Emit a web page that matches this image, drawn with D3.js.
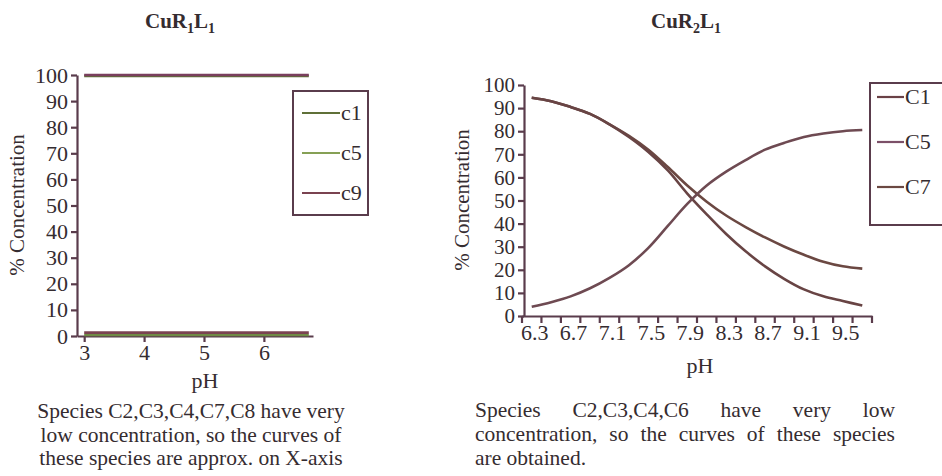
<!DOCTYPE html>
<html>
<head>
<meta charset="utf-8">
<script src="https://cdn.jsdelivr.net/npm/d3@7"></script>
<style>
  body { margin: 0; background: #fff; }
  svg { display: block; }
  text { font-family: "Liberation Serif", "Times New Roman", serif; fill: #352c30; }
</style>
</head>
<body>
<div id="chart"></div>
<script>
// ---- CuR1L1 (left panel) ----
const phLeft = [3, 4, 5, 6, 6.75];
const leftC1 = [99.6, 99.6, 99.6, 99.6, 99.6];
const leftC5 = [0.4, 0.4, 0.4, 0.4, 0.4];
const leftC9 = [100, 100, 100, 100, 100];
const leftMinor = [1.3, 1.3, 1.3, 1.3, 1.3];
const leftXTicks = [3, 4, 5, 6];
const yTicks = [0, 10, 20, 30, 40, 50, 60, 70, 80, 90, 100];

// ---- CuR2L1 (right panel) ----
const phRight = ["6.3", "6.5", "6.7", "6.9", "7.1", "7.3", "7.5", "7.7", "7.9",
                 "8.1", "8.3", "8.5", "8.7", "8.9", "9.1", "9.3", "9.5", "9.7"];
const rightC1 = [94.5, 93, 90.5, 87.5, 83, 77.5, 71, 63, 53, 44, 35.5, 28, 21.5, 16, 11.5, 8.5, 6.5, 4.5];
const rightC5 = [4, 6, 8.5, 12, 16.5, 22, 29.5, 39, 48.5, 56.5, 62.5, 67.5, 72, 75, 77.5, 79, 80, 80.5];
const rightC7 = [94.5, 93, 90.5, 87.5, 83, 78, 72, 64.5, 56.5, 49.5, 43.5, 38.5, 34, 30, 26.5, 23.5, 21.5, 20.5];
const rightLabels = ["6.3", "6.7", "7.1", "7.5", "7.9", "8.3", "8.7", "9.1", "9.5"];

const axisColor = "#5a3c4c";
const serif = "Liberation Serif";

const svg = d3.select("#chart").append("svg")
    .attr("width", 942)
    .attr("height", 476);

function title(x, y, sub1) {
    const t = svg.append("text")
        .attr("x", x).attr("y", y)
        .attr("text-anchor", "middle")
        .attr("font-size", "21px")
        .attr("font-weight", "bold");
    t.append("tspan").text("CuR");
    t.append("tspan").attr("font-size", "14px").attr("dy", 5).text(sub1);
    t.append("tspan").attr("dy", -5).text("L");
    t.append("tspan").attr("font-size", "14px").attr("dy", 5).text("1");
}

// d3 axis writes font-size/family on the group, so override afterwards
function styleAxis(g, size) {
    g.attr("font-family", serif).attr("font-size", size);
    g.selectAll("path, line").attr("stroke", axisColor).attr("stroke-width", 2.2);
    g.selectAll("text").attr("fill", "#352c30");
}

// ================= left panel =================
title(180, 28, "1");

const xL = d3.scaleLinear().domain([2.88, 6.82]).range([77, 313]);
const yL = d3.scaleLinear().domain([0, 100]).range([336, 75]);

svg.append("g")
    .attr("transform", "translate(77,0)")
    .call(d3.axisLeft(yL).tickValues(yTicks).tickSize(6).tickSizeOuter(0).tickPadding(3))
    .call(styleAxis, 22);

svg.append("g")
    .attr("transform", "translate(0,336)")
    .call(d3.axisBottom(xL).tickValues(leftXTicks).tickFormat(d3.format("d"))
        .tickSize(6).tickSizeOuter(0).tickPadding(2))
    .call(styleAxis, 22);

const lineL = d3.line().x((d, i) => xL(phLeft[i])).y(d => yL(d));
[[leftC1, "#5f7038"], [leftC9, "#7a3f5e"], [leftC5, "#6f8a45"], [leftMinor, "#7a4350"]].forEach(([vals, col]) => {
    svg.append("path").datum(vals)
        .attr("d", lineL)
        .attr("fill", "none")
        .attr("stroke", col)
        .attr("stroke-width", 2.6);
});

svg.append("text")
    .attr("transform", "translate(24,205) rotate(-90)")
    .attr("text-anchor", "middle")
    .attr("font-size", "21px")
    .text("% Concentration");

svg.append("text")
    .attr("x", 205).attr("y", 388)
    .attr("text-anchor", "middle")
    .attr("font-size", "22px")
    .text("pH");

// legend left
const legL = [["c1", "#5f7038", 113], ["c5", "#86a055", 153], ["c9", "#7a4350", 193]];
svg.append("rect")
    .attr("x", 293).attr("y", 91).attr("width", 75).attr("height", 124)
    .attr("fill", "#fff").attr("stroke", axisColor).attr("stroke-width", 2);
legL.forEach(([name, col, y]) => {
    svg.append("line").attr("x1", 302).attr("x2", 340).attr("y1", y).attr("y2", y)
        .attr("stroke", col).attr("stroke-width", 2.2);
    svg.append("text").attr("x", 341).attr("y", y + 7).attr("font-size", "22px").text(name);
});

const capL = ["Species C2,C3,C4,C7,C8 have very",
              "low concentration, so the curves of",
              "these species are approx. on X-axis"];
capL.forEach((s, i) => {
    svg.append("text")
        .attr("x", 191).attr("y", 418 + i * 23.5)
        .attr("text-anchor", "middle")
        .attr("font-size", "21.5px")
        .text(s);
});

// ================= right panel =================
title(686, 28, "2");

const xR = d3.scaleBand().domain(phRight).range([522, 872]).padding(0);
const yR = d3.scaleLinear().domain([0, 100]).range([316, 85]);

svg.append("g")
    .attr("transform", "translate(524,0)")
    .call(d3.axisLeft(yR).tickValues(yTicks).tickSize(6).tickSizeOuter(0).tickPadding(3))
    .call(styleAxis, 21);

const xAxisR = svg.append("g")
    .attr("transform", "translate(0,316)")
    .call(d3.axisBottom(xR).tickValues(rightLabels).tickSize(0).tickSizeOuter(0).tickPadding(8))
    .call(styleAxis, 22);
xAxisR.selectAll(".tick line").remove();
xAxisR.selectAll(".tick text").attr("dx", 3);

// tick marks sit between categories
const edges = phRight.map(c => xR(c)).concat([xR.range()[1]]);
svg.append("g").selectAll("line")
    .data(edges)
    .join("line")
    .attr("x1", d => d).attr("x2", d => d)
    .attr("y1", 316).attr("y2", 323)
    .attr("stroke", axisColor).attr("stroke-width", 2.2);

const lineR = d3.line()
    .x((d, i) => xR(phRight[i]) + xR.bandwidth() / 2)
    .y(d => yR(d))
    .curve(d3.curveCatmullRom.alpha(0.5));

const seriesR = [["C7", rightC7, "#6b4842"], ["C1", rightC1, "#684444"], ["C5", rightC5, "#6e4a52"]];
seriesR.forEach(([name, vals, col]) => {
    svg.append("path").datum(vals)
        .attr("d", lineR)
        .attr("fill", "none")
        .attr("stroke", col)
        .attr("stroke-width", 2.6);
});

svg.append("text")
    .attr("transform", "translate(469,200) rotate(-90)")
    .attr("text-anchor", "middle")
    .attr("font-size", "21px")
    .text("% Concentration");

svg.append("text")
    .attr("x", 700).attr("y", 373)
    .attr("text-anchor", "middle")
    .attr("font-size", "22px")
    .text("pH");

// legend right (runs off the page edge)
const legR = [["C1", "#6a4146", 97], ["C5", "#7c5068", 142], ["C7", "#6b4842", 187]];
svg.append("rect")
    .attr("x", 870).attr("y", 83).attr("width", 90).attr("height", 142)
    .attr("fill", "#fff").attr("stroke", axisColor).attr("stroke-width", 2);
legR.forEach(([name, col, y]) => {
    svg.append("line").attr("x1", 877).attr("x2", 904).attr("y1", y).attr("y2", y)
        .attr("stroke", col).attr("stroke-width", 2.2);
    svg.append("text").attr("x", 905).attr("y", y + 7).attr("font-size", "22px").text(name);
});

// justified caption
const capR = [["Species C2,C3,C4,C6 have very low", true],
              ["concentration, so the curves of these species", true],
              ["are obtained.", false]];
capR.forEach(([s, justify], i) => {
    const y = 417 + i * 24;
    const x0 = 475, x1 = 895;
    if (!justify) {
        svg.append("text").attr("x", x0).attr("y", y).attr("font-size", "21.5px").text(s);
        return;
    }
    const words = s.split(" ");
    const nodes = words.map(w => svg.append("text").attr("y", y).attr("font-size", "21.5px").text(w));
    const widths = nodes.map(n => n.node().getComputedTextLength());
    const gap = (x1 - x0 - d3.sum(widths)) / (words.length - 1);
    let x = x0;
    nodes.forEach((n, k) => { n.attr("x", x); x += widths[k] + gap; });
});
</script>
</body>
</html>
